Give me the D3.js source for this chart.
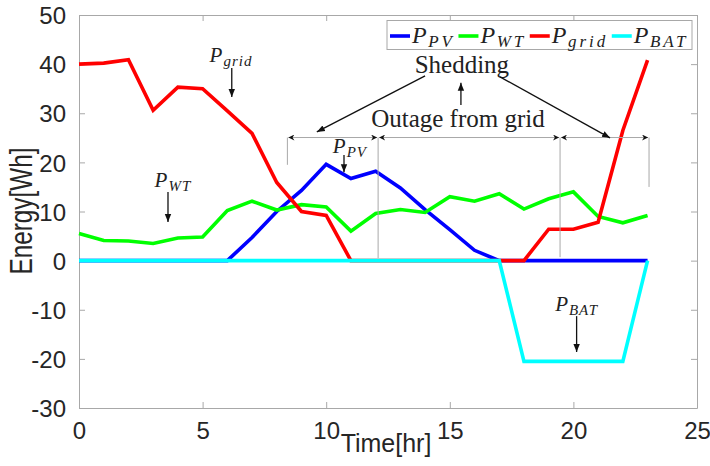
<!DOCTYPE html>
<html><head><meta charset="utf-8">
<script src="https://cdn.jsdelivr.net/npm/d3@7"></script>
<style>
html,body{margin:0;padding:0;background:#fff;}
svg{display:block;}
</style></head>
<body>
<svg id="chart" width="710" height="466"></svg>
<script>
// ---- data ----
const hours = [0,1,2,3,4,5,6,7,8,9,10,11,12,13,14,15,16,17,18,19,20,21,22,23];
const pPV   = [0,0,0,0,0,0,0,4.7,10.0,14.3,19.6,16.7,18.2,14.8,10.4,6.3,2.1,0,0,0,0,0,0,0];
const pWT   = [5.5,4.1,4.0,3.5,4.6,4.8,10.2,12.1,10.3,11.4,10.9,6.0,9.6,10.4,9.8,13.0,12.1,13.6,10.5,12.6,14.0,9.0,7.7,9.2];
const pGrid = [40.0,40.2,40.9,30.6,35.3,35.0,30.5,25.9,15.9,10.0,9.2,0,0,0,0,0,0,0,0,6.4,6.4,7.8,26.5,40.8];
const pBAT  = [0,0,0,0,0,0,0,0,0,0,0,0,0,0,0,0,0,0,-20.5,-20.5,-20.5,-20.5,-20.5,0];
const xTicks = [0,5,10,15,20,25];
const yTicks = [-30,-20,-10,0,10,20,30,40,50];
const seriesNames = [["P","PV"],["P","WT"],["P","grid"],["P","BAT"]];
const seriesColors = ["#0000ff","#00ff00","#ff0000","#00ffff"];

const svg = d3.select("#chart");
const x = d3.scaleLinear().domain([0,25]).range([79,697]);
const y = d3.scaleLinear().domain([-30,50]).range([408,15]);
const axisColor = "#a8a8a8", textColor = "#262626";
const sans = "'Liberation Sans', Arial, Helvetica, sans-serif";
const serif = "'Liberation Serif', 'Times New Roman', serif";

// markers
const defs = svg.append("defs");
defs.append("marker").attr("id","ah").attr("viewBox","0 0 10 10").attr("refX",10).attr("refY",5)
  .attr("markerWidth",8).attr("markerHeight",8).attr("markerUnits","userSpaceOnUse").attr("orient","auto")
  .append("path").attr("d","M0,1 L10,5 L0,9 Z").attr("fill","#111");
defs.append("marker").attr("id","dh").attr("viewBox","0 0 10 10").attr("refX",10).attr("refY",5)
  .attr("markerWidth",7).attr("markerHeight",6).attr("markerUnits","userSpaceOnUse").attr("orient","auto-start-reverse")
  .append("path").attr("d","M0,0 L10,5 L0,10 L3,5 Z").attr("fill","#111");

// axes (box with inward ticks)
const fmt = d => String(d);
const gx = svg.append("g").attr("transform",`translate(0,${y(-30)})`)
  .call(d3.axisBottom(x).tickValues(xTicks).tickFormat(fmt).tickSize(-6).tickPadding(14).tickSizeOuter(0));
const gxTop = svg.append("g").attr("transform",`translate(0,${y(50)})`)
  .call(d3.axisTop(x).tickValues(xTicks).tickSize(-6).tickFormat("").tickSizeOuter(0));
const gy = svg.append("g").attr("transform",`translate(${x(0)},0)`)
  .call(d3.axisLeft(y).tickValues(yTicks).tickFormat(fmt).tickSize(-6).tickPadding(13).tickSizeOuter(0));
const gyR = svg.append("g").attr("transform",`translate(${x(25)},0)`)
  .call(d3.axisRight(y).tickValues(yTicks).tickSize(-6).tickFormat("").tickSizeOuter(0));
[gx,gxTop,gy,gyR].forEach(g=>{
  g.select(".domain").attr("stroke",axisColor).attr("stroke-width",1);
  g.selectAll(".tick line").attr("stroke",axisColor);
  g.selectAll("text").attr("fill",textColor).style("font-family",sans).style("font-size","24px");
});
gx.selectAll("text").attr("dy","0.71em");
gy.selectAll("text").attr("dy","0.36em");

// axis labels
svg.append("text").attr("x",386).attr("y",452).attr("text-anchor","middle")
  .attr("fill",textColor).style("font-family",sans).style("font-size","25px").text("Time[hr]");
svg.append("text").attr("transform","translate(32,211) rotate(-90)").attr("text-anchor","middle")
  .attr("fill",textColor).style("font-family",sans).style("font-size","31px")
  .attr("textLength",127).attr("lengthAdjust","spacingAndGlyphs").text("Energy[Wh]");

// series
const allSeries = [pPV,pWT,pGrid,pBAT];
const line = d3.line().x((d,i)=>x(hours[i])).y(d=>y(d));
allSeries.forEach((s,k)=>{
  svg.append("path").datum(s).attr("d",line).attr("fill","none")
    .attr("stroke",seriesColors[k]).attr("stroke-width",3.6).attr("stroke-linejoin","miter");
});

// annotation helpers
function pLabel(g, cx, by, sub, size){
  const t = g.append("text").attr("x",cx).attr("y",by).attr("text-anchor","middle")
    .style("font-family",serif).style("font-style","italic").attr("fill","#222");
  t.append("tspan").style("font-size",size+"px").text("P");
  t.append("tspan").style("font-size",Math.round(size*0.7)+"px").style("letter-spacing","1px")
    .attr("dx",1).attr("dy",size*0.2).text(sub);
  return t;
}
function arrow(x1,y1,x2,y2){
  svg.append("line").attr("x1",x(x1)).attr("y1",y(y1)).attr("x2",x(x2)).attr("y2",y(y2))
    .attr("stroke","#111").attr("stroke-width",1.3).attr("marker-end","url(#ah)");
}

// dimension lines (gray) for outage periods
const dimY = 25.06;
const dimX = [8.43,12.1,19.46,23.06];
const dimBottom = [19.5,0.5,0.7,15.0];
dimX.forEach((d,i)=>{
  svg.append("line").attr("x1",x(d)).attr("x2",x(d)).attr("y1",y(dimY)).attr("y2",y(dimBottom[i]))
    .attr("stroke","#a8a8a8").attr("stroke-width",1);
});
const segs = [[8.43,12.1],[12.1,19.46],[19.46,23.06]];
segs.forEach(([a,b])=>{
  svg.append("line").attr("x1",x(a)+1).attr("x2",x(b)-1).attr("y1",y(dimY)).attr("y2",y(dimY))
    .attr("stroke","#a8a8a8").attr("stroke-width",1)
    .attr("marker-start","url(#dh)").attr("marker-end","url(#dh)");
});

// text annotations
const ann = svg.append("g");
pLabel(ann, x(6.15), y(40.4), "grid", 21); arrow(6.18,39.2,6.18,33.3);
pLabel(ann, x(3.8), y(15.0), "WT", 21);    arrow(3.6,13.96,3.6,7.86);
pLabel(ann, x(10.96), y(21.9), "PV", 21);  arrow(10.72,21.5,10.72,18.0);
pLabel(ann, x(20.13), y(-10.26), "BAT", 21); arrow(20.13,-11.3,20.13,-18.6);

svg.append("text").attr("x",x(15.49)).attr("y",y(38.2)).attr("text-anchor","middle")
  .style("font-family",serif).style("font-size","25px").attr("fill","#222").text("Shedding");
svg.append("text").attr("x",x(15.33)).attr("y",y(27.2)).attr("text-anchor","middle")
  .style("font-family",serif).style("font-size","25px").attr("fill","#222").text("Outage from grid");
arrow(14.0,37.6,9.62,26.2);
arrow(15.45,31.7,15.45,36.2);
arrow(17.03,37.4,21.48,25.0);

// legend
const lg = svg.append("g");
const box = lg.append("rect").attr("fill","#fff").attr("stroke","#a8a8a8").attr("stroke-width",1);
let cx = 390; const ly = 36;
seriesNames.forEach((nm,k)=>{
  lg.append("line").attr("x1",cx).attr("x2",cx+20).attr("y1",ly).attr("y2",ly)
    .attr("stroke",seriesColors[k]).attr("stroke-width",3.6);
  const t = lg.append("text").attr("x",cx+22).attr("y",ly+7)
    .style("font-family",serif).style("font-style","italic").attr("fill","#222");
  t.append("tspan").style("font-size","24px").text(nm[0]);
  t.append("tspan").style("font-size","17px").style("letter-spacing","3px")
    .attr("dx",1.5).attr("dy",4).text(nm[1]);
  cx += 22 + t.node().getComputedTextLength() + 5;
});
box.attr("x",387).attr("y",20.5).attr("width",305).attr("height",29);
</script>
</body></html>
